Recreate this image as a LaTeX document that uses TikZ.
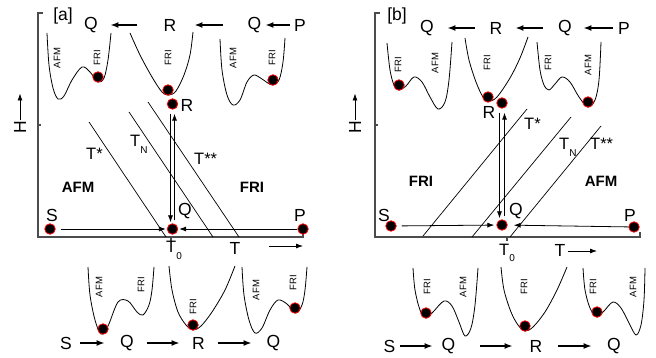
\documentclass[tikz,border=0pt]{standalone}
\usepackage{fontspec}
\setmainfont{Liberation Sans}
\usetikzlibrary{arrows.meta}
\newcommand{\lowsub}[1]{\raisebox{-0.42em}{\fontsize{10}{12}\selectfont #1}}
\begin{document}
\begin{tikzpicture}[x=1pt, y=-1pt,
  lbl/.style={inner sep=0pt, font=\fontsize{17.5}{20}\selectfont},
  tlbl/.style={inner sep=0pt, anchor=base west, font=\fontsize{16.5}{19}\selectfont},
  wlbl/.style={inner sep=0pt, rotate=90, font=\fontsize{9.5}{11}\selectfont},
  phase/.style={inner sep=0pt, font=\fontsize{15}{17}\selectfont\bfseries},
  ball/.style={circle, draw=red, fill=black, line width=0.8pt, minimum size=10.5pt, inner sep=0pt},
  well/.style={line width=0.8pt},
  axis/.style={draw=black!70, line width=1.3pt},
  bnd/.style={line width=0.7pt},
  arr/.style={line width=1.6pt, -{Latex[length=8pt,width=6pt]}},
  tarr/.style={line width=0.8pt, -{Latex[length=7pt,width=5pt]}}
]
\useasboundingbox (0,0) rectangle (656,358);

% ---------------- panel [a] ----------------
\draw[axis] (43,13) -- (38,13) -- (38,237) -- (303,237) -- (303,232);
\draw[axis] (38,125) -- (41,125);
\draw[axis] (171,237) -- (171,241);
\node[lbl, rotate=90] (aH) at (20,127) {H};
\draw[tarr] (aH.east) -- ++(0,-27);
\node[lbl] (alab) at (63,16) {[a]};

% top row
\node[lbl] (aQt1) at (91,25) {Q};
\node[lbl] (aRt)  at (170,25) {R};
\node[lbl] (aQt2) at (254.5,25) {Q};
\node[lbl] (aPt)  at (300,25) {P};
\draw[arr, shorten <=26.9pt, shorten >=12.4pt] (aRt) -- (aQt1);
\draw[arr, shorten <=24.8pt, shorten >=17.9pt] (aQt2) -- (aRt);
\draw[arr, shorten <=4.3pt, shorten >=3.9pt] (aPt) -- (aQt2);

\draw[well] plot[smooth, tension=0.55] coordinates {(47,33) (49,65) (53,88) (58,99) (64,96) (72,80) (82,67) (90,72) (98,82) (104,78) (108,60) (111,33)};
\draw[well] plot[smooth, tension=0.55] coordinates {(130,33) (140,55) (152,77) (162,92) (169,95) (176,91) (184,75) (190,55) (193,32)};
\draw[well] plot[smooth, tension=0.55] coordinates {(220,39) (222,70) (227,95) (233,105) (240,100) (247,82) (254,75) (262,79) (272,85) (279,80) (283,62) (285,38)};
\node[ball] (aw1) at (98,77) {};
\node[ball] (aw2) at (168,90) {};
\node[ball] (aw3) at (273,80) {};
\node[wlbl] at (57,58) {AFM};
\node[wlbl] at (97,58) {FRI};
\node[wlbl] at (168,58) {FRI};
\node[wlbl] at (233,58) {AFM};
\node[wlbl] at (272,58) {FRI};

% phase diagram
\draw[bnd] (89,122) -- (166,237);
\draw[bnd] (129,112) -- (213,237);
\draw[bnd] (148,102) -- (239,237);
\node[tlbl] at (86,160) {T*};
\node[tlbl] at (130,147) {T\lowsub{N}};
\node[tlbl] at (194,165) {T**};
\node[phase] at (78,187) {AFM};
\node[phase] at (252,187) {FRI};

\node[ball] (aR) at (172.5,104) {};
\node[ball] (aQ) at (172.5,229) {};
\node[ball] (aS) at (50,229) {};
\node[ball] (aP) at (303,229) {};
\node[lbl] at (187,105) {R};
\node[lbl] at (185,211) {Q};
\node[lbl] at (52,215) {S};
\node[lbl] at (300,215) {P};
\draw[tarr, shorten <=4pt, shorten >=1pt] ([xshift=-2pt]aR.south) -- ([xshift=-2pt]aQ.north);
\draw[tarr, shorten <=3pt, shorten >=4pt] ([xshift=2pt]aQ.north) -- ([xshift=2pt]aR.south);
\draw[tarr, shorten <=5pt, shorten >=1pt] (aS) -- (aQ);
\draw[tarr, shorten >=1pt] (aP) -- (aQ);

\node[tlbl] at (166,253) {T\lowsub{0}};
\node[lbl] (aT) at (235,248) {T};
\coordinate (aTa) at (269,246);
\coordinate (aTb) at (303,246);
\draw[tarr] (aTa) -- (aTb);

% bottom row
\draw[well] plot[smooth, tension=0.55] coordinates {(88,267) (90,295) (95,320) (101,334) (108,326) (118,302) (128,301) (137,312) (143,315) (149,305) (152,290) (154,267)};
\draw[well] plot[smooth, tension=0.55] coordinates {(169,266) (172,290) (178,312) (186,325) (193,330) (201,326) (212,312) (225,290) (235,266)};
\draw[well] plot[smooth, tension=0.55] coordinates {(242,267) (244,295) (249,320) (255,333) (262,328) (270,310) (278,300) (287,304) (296,313) (302,305) (305,290) (307,267)};
\node[ball] (aw4) at (103,329) {};
\node[ball] (aw5) at (193,325) {};
\node[ball] (aw6) at (295,308) {};
\node[wlbl] at (99,287) {AFM};
\node[wlbl] at (141,285) {FRI};
\node[wlbl] at (193,307) {FRI};
\node[wlbl] at (256,290) {AFM};
\node[wlbl] at (293,283) {FRI};

\node[lbl] (aSb)  at (66,343) {S};
\node[lbl] (aQb1) at (127,343) {Q};
\node[lbl] (aRb)  at (198.5,343) {R};
\node[lbl] (aQb2) at (273.5,343) {Q};
\draw[arr, shorten <=8.3pt, shorten >=15.4pt] (aSb) -- (aQb1);
\draw[arr, shorten <=13.4pt, shorten >=12.4pt] (aQb1) -- (aRb);
\draw[arr, shorten <=13.4pt, shorten >=14.9pt] (aRb) -- (aQb2);

% ---------------- panel [b] ----------------
\draw[axis] (380,13) -- (375,13) -- (375,237) -- (640,237) -- (640,232);
\draw[axis] (375,125) -- (378,125);
\draw[axis] (507,237) -- (507,241);
\node[lbl, rotate=90] (bH) at (355,127) {H};
\draw[tarr] (bH.east) -- ++(0,-27);
\node[lbl] (blab) at (397,16) {[b]};

% top row
\node[lbl] (bQt1) at (427,28) {Q};
\node[lbl] (bRt)  at (496,28) {R};
\node[lbl] (bQt2) at (565,28) {Q};
\node[lbl] (bPt)  at (624,28) {P};
\draw[arr, shorten <=14.9pt, shorten >=13.4pt] (bRt) -- (bQt1);
\draw[arr, shorten <=15.4pt, shorten >=12.9pt] (bQt2) -- (bRt);
\draw[arr, shorten <=5.3pt, shorten >=11.4pt] (bPt) -- (bQt2);

\draw[well] plot[smooth, tension=0.55] coordinates {(387,43) (390,70) (394,85) (399,90) (406,86) (414,77) (422,82) (430,97) (438,109) (445,102) (449,80) (452,42)};
\draw[well] plot[smooth, tension=0.55] coordinates {(465,38) (469,60) (476,82) (483,97) (489,101) (497,97) (510,78) (520,58) (528,37)};
\draw[well] plot[smooth, tension=0.55] coordinates {(537,42) (540,70) (544,85) (549,90) (555,84) (562,77) (570,82) (579,97) (588,107) (595,100) (599,80) (601,42)};
\node[ball] (bw1) at (399,85) {};
\node[ball] (bw2) at (488,97) {};
\node[ball] (bw3) at (588,102) {};
\node[wlbl] at (398,65) {FRI};
\node[wlbl] at (435,63) {AFM};
\node[wlbl] at (487,63) {FRI};
\node[wlbl] at (548,63) {FRI};
\node[wlbl] at (588,65) {AFM};

% phase diagram
\draw[bnd] (423,236) -- (527,109);
\draw[bnd] (472,237) -- (571,117);
\draw[bnd] (510,237) -- (601,126);
\node[tlbl] at (524,130) {T*};
\node[tlbl] at (559,150) {T\lowsub{N}};
\node[tlbl] at (590,150) {T**};
\node[phase] at (421,181) {FRI};
\node[phase] at (601,181) {AFM};

\node[ball] (bR) at (502,103) {};
\node[ball] (bQ) at (502,225) {};
\node[ball] (bS) at (391,226) {};
\node[ball] (bP) at (634,227) {};
\node[lbl] at (489,112) {R};
\node[lbl] at (516,211) {Q};
\node[lbl] at (384,215) {S};
\node[lbl] at (630,215) {P};
\draw[tarr, shorten <=4pt, shorten >=1pt] ([xshift=-2.5pt]bR.south) -- ([xshift=-2.5pt]bQ.north);
\draw[tarr, shorten <=3pt, shorten >=4pt] ([xshift=2.5pt]bQ.north) -- ([xshift=2.5pt]bR.south);
\draw[tarr, shorten <=5pt, shorten >=2pt] (bS) -- (bQ);
\draw[tarr, shorten >=6pt] (bP) -- (bQ);

\node[tlbl] at (499,255) {T\lowsub{0}};
\node[lbl] (bT) at (560,250) {T};
\coordinate (bTb) at (597,251);
\draw[tarr, shorten <=2pt] (bT.east |- bTb) -- (bTb);

% bottom row
\draw[well] plot[smooth, tension=0.55] coordinates {(413,268) (415,290) (420,310) (426,318) (433,312) (444,301) (452,306) (459,322) (465,336) (471,328) (475,305) (478,268)};
\draw[well] plot[smooth, tension=0.55] coordinates {(501,267) (504,290) (511,312) (518,325) (525,331) (533,327) (545,312) (557,290) (567,267)};
\draw[well] plot[smooth, tension=0.55] coordinates {(583,268) (585,290) (590,308) (597,317) (604,311) (613,302) (621,308) (629,323) (636,335) (641,325) (644,300) (645,268)};
\node[ball] (bw4) at (426,313) {};
\node[ball] (bw5) at (525,326) {};
\node[ball] (bw6) at (597,312) {};
\node[wlbl] at (427,287) {FRI};
\node[wlbl] at (463,287) {AFM};
\node[wlbl] at (524,287) {FRI};
\node[wlbl] at (593,287) {FRI};
\node[wlbl] at (633,287) {AFM};

\node[lbl] (bSb)  at (389.5,346) {S};
\node[lbl] (bQb1) at (448.5,346) {Q};
\node[lbl] (bRb)  at (536,346) {R};
\node[lbl] (bQb2) at (614,346) {Q};
\draw[arr, shorten <=4.8pt, shorten >=8.9pt] (bSb) -- (bQb1);
\draw[arr, shorten <=24.9pt, shorten >=16.9pt] (bQb1) -- (bRb);
\draw[arr, shorten <=15.9pt, shorten >=15.4pt] (bRb) -- (bQb2);
\end{tikzpicture}
\end{document}
